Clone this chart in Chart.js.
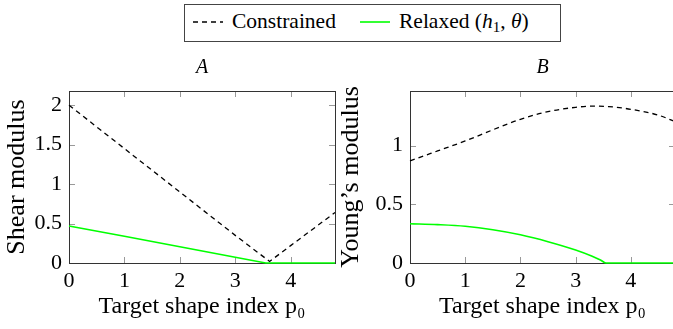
<!DOCTYPE html>
<html>
<head>
<meta charset="utf-8">
<script src="https://cdn.jsdelivr.net/npm/chart.js@4.4.1/dist/chart.umd.min.js"></script>
<style>
  html, body { margin: 0; padding: 0; background: #fff; overflow: hidden; }
  body { width: 673px; height: 329px; position: relative; font-family: "Liberation Serif", "Times New Roman", serif; color: #000; }
  canvas { position: absolute; top: 50px; }
  #chartA { left: 0; }
  #chartB { left: 334px; }
  #legend { position: absolute; left: 184px; top: 4px; width: 375px; height: 36px; border: 1px solid #444; }
  #legend .txt { position: absolute; top: 0; line-height: 32px; font-size: 21.5px; white-space: nowrap; }
  #legend svg { position: absolute; }
  #legend sub { font-size: 15px; vertical-align: -4px; line-height: 0; }
</style>
</head>
<body>
<div id="legend">
  <svg style="left:8px;top:15px" width="30" height="4"><line x1="0" y1="2" x2="30" y2="2" stroke="#000" stroke-width="1.3" stroke-dasharray="5,4"/></svg>
  <span class="txt" style="left:47px">Constrained</span>
  <svg style="left:175px;top:15px" width="30" height="4"><line x1="0" y1="2" x2="30" y2="2" stroke="#00ff00" stroke-width="1.6"/></svg>
  <span class="txt" style="left:214px">Relaxed (<i>h</i><sub>1</sub>, <i>θ</i>)</span>
</div>
<canvas id="chartA" width="340" height="279"></canvas>
<canvas id="chartB" width="342" height="279"></canvas>
<script>
// tick values
const xTicks = [0, 1, 2, 3, 4];
const shearTicks = [0, 0.5, 1, 1.5, 2];
const youngTicks = [0, 0.5, 1];

// panel A: shear modulus
const shearP0 = [0, 1, 2, 3, 3.62, 4, 4.8];
const shearConstrained = [2.0, 1.45, 0.9, 0.35, 0.02, 0.22, 0.64];
const shearRelaxedP0 = [0, 1, 2, 3, 3.55, 4, 4.8];
const shearRelaxed = [0.47, 0.338, 0.205, 0.073, 0, 0, 0];

// panel B: Young's modulus
const youngP0 = [0, 0.5, 1, 1.5, 2, 2.5, 3, 3.3, 3.6, 4, 4.5, 4.8];
const youngConstrained = [0.87, 0.955, 1.04, 1.135, 1.225, 1.29, 1.327, 1.337, 1.333, 1.31, 1.26, 1.205];
const youngRelaxedP0 = [0, 0.5, 1, 1.5, 2, 2.5, 3, 3.3, 3.45, 3.55, 4, 4.8];
const youngRelaxed = [0.335, 0.327, 0.313, 0.284, 0.241, 0.182, 0.111, 0.058, 0.026, 0, 0, 0];

const serif = '"Liberation Serif", "Times New Roman", serif';
const pts = (xs, ys) => xs.map((x, i) => ({ x: x, y: ys[i] }));

// box around the plot with small ticks pointing inward
const framePlugin = {
    id: 'frame',
    beforeDatasetsDraw(chart) {
        const { ctx, chartArea: a, scales: { x, y } } = chart;
        ctx.save();
        ctx.strokeStyle = '#999';
        ctx.lineWidth = 1;
        ctx.beginPath();
        x.ticks.forEach(t => {
            const px = Math.round(x.getPixelForValue(t.value)) + 0.5;
            ctx.moveTo(px, a.bottom); ctx.lineTo(px, a.bottom - 6);
            ctx.moveTo(px, a.top); ctx.lineTo(px, a.top + 6);
        });
        y.ticks.forEach(t => {
            const py = Math.round(y.getPixelForValue(t.value)) + 0.5;
            ctx.moveTo(a.left, py); ctx.lineTo(a.left + 6, py);
            ctx.moveTo(a.right, py); ctx.lineTo(a.right - 6, py);
        });
        ctx.stroke();
        ctx.strokeStyle = '#333';
        ctx.strokeRect(Math.round(a.left) + 0.5, Math.round(a.top) + 0.5,
            Math.round(a.right - a.left), Math.round(a.bottom - a.top));
        ctx.restore();
    }
};

function makePanel(id, o) {
    new Chart(document.getElementById(id), {
        type: 'line',
        data: {
            datasets: [{
                label: 'Constrained',
                data: pts(o.cx, o.cy),
                borderColor: '#000',
                borderWidth: 1.3,
                borderDash: [5, 4],
                pointRadius: 0,
                cubicInterpolationMode: o.smooth ? 'monotone' : 'default',
                tension: 0,
                clip: 3
            }, {
                label: 'Relaxed (h1, θ)',
                data: pts(o.rx, o.ry),
                borderColor: '#00ff00',
                borderWidth: 1.6,
                pointRadius: 0,
                cubicInterpolationMode: o.smooth ? 'monotone' : 'default',
                tension: 0,
                clip: 3
            }]
        },
        options: {
            responsive: false,
            animation: false,
            events: [],
            layout: { padding: { left: 0, right: o.padRight, top: 0, bottom: 0 } },
            plugins: {
                legend: { display: false },
                tooltip: { enabled: false },
                title: {
                    display: true, text: o.title, fullSize: false, color: '#000',
                    font: { family: serif, size: 20, style: 'italic', weight: 'normal' },
                    padding: { top: 6, bottom: 11 }
                }
            },
            scales: {
                x: {
                    type: 'linear', min: 0, max: 4.8,
                    afterBuildTicks: s => { s.ticks = xTicks.map(v => ({ value: v })); },
                    afterFit: s => { s.height = 66; },
                    grid: { display: false, drawTicks: false },
                    border: { display: false },
                    ticks: { color: '#000', padding: 5, font: { family: serif, size: 22 }, callback: v => String(v) },
                    title: {
                        display: true, text: 'Target shape index p₀', color: '#000',
                        font: { family: serif, size: 24 }, padding: { top: 0, bottom: 8 }
                    }
                },
                y: {
                    type: 'linear', min: 0, max: o.ymax,
                    afterBuildTicks: s => { s.ticks = o.yTicks.map(v => ({ value: v })); },
                    afterFit: s => { s.width = o.yWidth; },
                    grid: { display: false, drawTicks: false },
                    border: { display: false },
                    ticks: { color: '#000', padding: 7, font: { family: serif, size: 22 }, callback: v => String(v) },
                    title: {
                        display: true, text: o.ytitle, color: '#000',
                        font: { family: serif, size: 26 }, padding: { top: o.yTitlePad, bottom: 0 }
                    }
                }
            }
        },
        plugins: [framePlugin]
    });
}

makePanel('chartA', {
    title: 'A', ytitle: 'Shear modulus', ymax: 2.18, yTicks: shearTicks,
    cx: shearP0, cy: shearConstrained, rx: shearRelaxedP0, ry: shearRelaxed,
    smooth: false, yWidth: 69, yTitlePad: 2, padRight: 5
});
makePanel('chartB', {
    title: 'B', ytitle: 'Young’s modulus', ymax: 1.466, yTicks: youngTicks,
    cx: youngP0, cy: youngConstrained, rx: youngRelaxedP0, ry: youngRelaxed,
    smooth: true, yWidth: 76, yTitlePad: 2, padRight: 1
});
</script>
</body>
</html>
